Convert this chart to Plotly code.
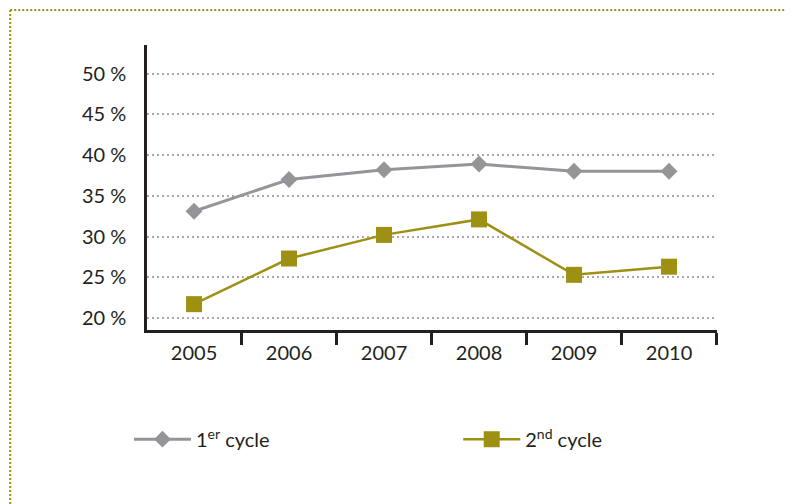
import plotly.graph_objects as go

years = ["2005", "2006", "2007", "2008", "2009", "2010"]
cycle1 = [33.1, 37.0, 38.2, 38.9, 38.0, 38.0]
cycle2 = [21.7, 27.3, 30.2, 32.1, 25.3, 26.3]
y_ticks = [20, 25, 30, 35, 40, 45, 50]
y_labels = [f"{v} %" for v in y_ticks]

dark = "#231f20"
grey = "#939598"
olive = "#9d9013"
pos = list(range(len(years)))

fig = go.Figure()
fig.add_trace(go.Scatter(
    x=pos, y=cycle1, name="1<sup>er</sup> cycle", mode="lines+markers",
    line=dict(color=grey, width=3),
    marker=dict(symbol="diamond", size=13, color=grey)))
fig.add_trace(go.Scatter(
    x=pos, y=cycle2, name="2<sup>nd</sup> cycle", mode="lines+markers",
    line=dict(color=olive, width=2.5),
    marker=dict(symbol="square", size=16, color=olive),
    legend="legend2"))

legend_style = dict(orientation="h", y=-0.383, yanchor="middle",
                    xanchor="left", itemwidth=57,
                    font=dict(size=20, color=dark))

# page body has an 8px margin, so the figure is made 8px smaller
fig.update_layout(
    width=785, height=496,
    margin=dict(l=139, r=76, t=37, b=174),
    plot_bgcolor="white", paper_bgcolor="white",
    font=dict(family="Lato, sans-serif", size=20, color=dark),
    showlegend=True,
    legend=dict(x=-0.0316, **legend_style),
    legend2=dict(x=0.546, **legend_style),
    xaxis=dict(range=[-0.495, 5.505], tickvals=pos, ticktext=years,
               ticks="", showgrid=False, zeroline=False,
               showline=True, linecolor=dark, linewidth=2.5,
               ticklabelstandoff=3,
               minor=dict(ticks="outside", tick0=0.5, dtick=1, ticklen=12,
                          tickwidth=2.5, tickcolor=dark, showgrid=False)),
    yaxis=dict(range=[18.53, 53.5], tickvals=y_ticks, ticktext=y_labels,
               ticks="", showline=True, linecolor=dark, linewidth=2.5,
               zeroline=False, showgrid=True, gridcolor="#a7a9ac",
               gridwidth=2, griddash="2px,3px", ticklabelstandoff=14,
               tickfont=dict(size=20)),
)

# dotted frame at top and left
fig.add_shape(type="line", xref="paper", yref="paper",
              x0=-0.24, x1=1.14, y0=1.1227, y1=1.1227,
              line=dict(color=olive, width=2, dash="2px,2px"))
fig.add_shape(type="line", xref="paper", yref="paper",
              x0=-0.24, x1=-0.24, y0=1.1227, y1=-0.66,
              line=dict(color=olive, width=2, dash="2px,2px"))

fig.write_html("out.html")
